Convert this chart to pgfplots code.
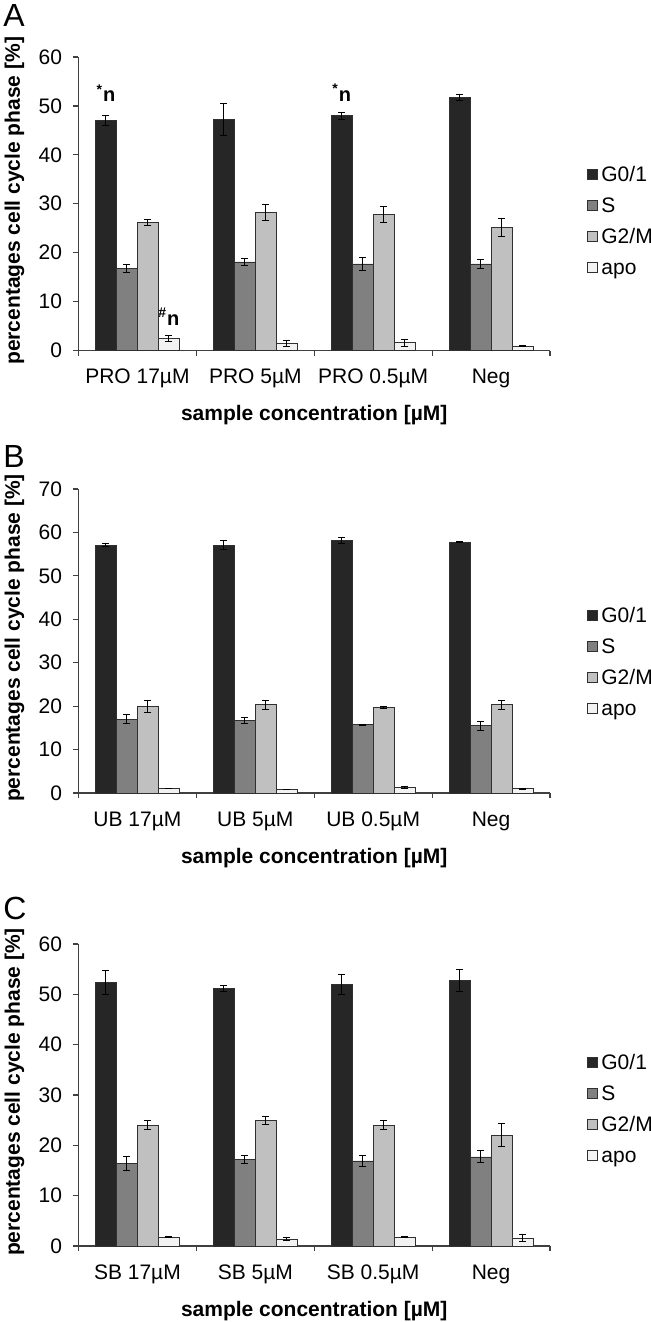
\documentclass[border=0pt]{standalone}
\usepackage{fontspec}
\setmainfont{Liberation Sans}
\usepackage{pgfplots}
\pgfplotsset{compat=1.18}
\definecolor{cG}{HTML}{262626}
\definecolor{cS}{HTML}{808080}
\definecolor{cM}{HTML}{C0C0C0}
\definecolor{cA}{HTML}{F2F2F2}
\definecolor{cEdge}{HTML}{303030}
\definecolor{cAxis}{HTML}{404040}
\pgfplotsset{
 panel/.style={
  scale only axis, width=235.75pt,
  xmin=-0.5, xmax=3.5, ymin=0,
  axis lines=left, axis line style={-, cAxis, line width=0.6pt},
  xtick={0,1,2,3}, major x tick style={draw=none},
  minor xtick={-0.5,0.5,1.5,2.5,3.5},
  minor x tick style={cAxis, line width=0.6pt},
  tick align=outside, minor tick length=2.5pt, major tick length=2.5pt,
  ytick style={cAxis, line width=0.6pt},
  /pgf/number format/assume math mode=true,
  yticklabel style={font=\fontsize{10.5}{12}\selectfont, anchor=east, inner sep=0pt, xshift=-5.5pt},
  xticklabel style={font=\fontsize{10.5}{12}\selectfont, anchor=base, inner sep=0pt, yshift=-14pt},
  xlabel={sample concentration [µM]},
  ylabel={percentages cell cycle phase [\%]},
  xlabel style={at={(rel axis cs:0.5,0)}, anchor=base, yshift=-35pt, inner sep=0pt, font=\bfseries\fontsize{10.5}{12}\selectfont},
  ylabel style={at={(axis description cs:-0.1357,0.51)}, anchor=center, inner sep=0pt, font=\bfseries\fontsize{10.5}{12}\selectfont},
  ybar=0pt, bar width=10.5pt,
  every axis plot/.append style={draw=cEdge, line width=0.4pt},
  error bars/y dir=both, error bars/y explicit,
  error bars/error bar style={black, line width=0.5pt},
  error bars/error mark options={rotate=90, black, mark size=1.75pt, line width=0.5pt},
  legend image code/.code={\draw[#1, draw=cEdge, line width=0.4pt] (0pt,-2.5pt) rectangle (5pt,2.5pt);},
  legend cell align=left,
  legend style={anchor=west, xshift=18.5pt, draw=none, fill=none, inner sep=0pt, outer sep=0pt,
    row sep=8pt, column sep=0pt, font=\fontsize{10.5}{12}\selectfont,
    nodes={inner xsep=1.8pt, inner ysep=0pt, text height=7.5pt, text depth=0pt}},
 }
}
\begin{document}
\begin{tikzpicture}
\path[use as bounding box] (0,0) rectangle (325pt,-661pt);
% Panel A
\node[anchor=base west, inner sep=0pt, font=\fontsize{16}{18}\selectfont] at (1.5pt,-13.5pt) {A};
\begin{axis}[panel, at={(39.25pt,-175.25pt)}, anchor=south west, height=146.75pt,
  ymax=60, ytick={0,10,...,60},
  xticklabels={PRO 17µM, PRO 5µM, PRO 0.5µM, Neg},
  legend style={at={(rel axis cs:1,0.443)}}]
\addplot[fill=cG] coordinates {(0,47.0) +- (0,1.1) (1,47.2) +- (0,3.2) (2,48.0) +- (0,0.7) (3,51.7) +- (0,0.55)};
\addplot[fill=cS] coordinates {(0,16.7) +- (0,0.85) (1,18.1) +- (0,0.7) (2,17.7) +- (0,1.3) (3,17.7) +- (0,1.0)};
\addplot[fill=cM] coordinates {(0,26.15) +- (0,0.6) (1,28.2) +- (0,1.7) (2,27.8) +- (0,1.7) (3,25.1) +- (0,1.85)};
\addplot[fill=cA] coordinates {(0,2.4) +- (0,0.65) (1,1.4) +- (0,0.65) (2,1.6) +- (0,0.7) (3,0.9) +- (0,0.15)};
\legend{G0/1,S,G2/M,apo}
\node[anchor=base, inner sep=0pt, font=\bfseries\fontsize{10}{12}\selectfont] at (axis cs:-0.2672,50.86) {\textsuperscript{*}n};
\node[anchor=base, inner sep=0pt, font=\bfseries\fontsize{10}{12}\selectfont] at (axis cs:1.7328,51.0) {\textsuperscript{*}n};
\node[anchor=base, inner sep=0pt, font=\bfseries\fontsize{10}{12}\selectfont] at (axis cs:0.2672,5.2) {\textsuperscript{\#}n};
\end{axis}
% Panel B
\node[anchor=base west, inner sep=0pt, font=\fontsize{16}{18}\selectfont] at (1.5pt,-233.5pt) {B};
\begin{axis}[panel, at={(39.25pt,-396.5pt)}, anchor=south west, height=152pt,
  ymax=70, ytick={0,10,...,70},
  xticklabels={UB 17µM, UB 5µM, UB 0.5µM, Neg},
  legend style={at={(rel axis cs:1,0.431)}}]
\addplot[fill=cG] coordinates {(0,57.1) +- (0,0.3) (1,57.1) +- (0,1.0) (2,58.1) +- (0,0.75) (3,57.8) +- (0,0.1)};
\addplot[fill=cS] coordinates {(0,17.0) +- (0,1.0) (1,16.7) +- (0,0.7) (2,15.7) +- (0,0.1) (3,15.5) +- (0,1.0)};
\addplot[fill=cM] coordinates {(0,19.9) +- (0,1.4) (1,20.3) +- (0,1.0) (2,19.7) +- (0,0.2) (3,20.3) +- (0,1.0)};
\addplot[fill=cA] coordinates {(0,1.1) +- (0,0) (1,0.75) +- (0,0) (2,1.2) +- (0,0.2) (3,0.95) +- (0,0.15)};
\legend{G0/1,S,G2/M,apo}
\end{axis}
% Panel C
\node[anchor=base west, inner sep=0pt, font=\fontsize{16}{18}\selectfont] at (1.5pt,-459.5pt) {C};
\begin{axis}[panel, at={(39.25pt,-623pt)}, anchor=south west, height=151pt,
  ymax=60, ytick={0,10,...,60},
  xticklabels={SB 17µM, SB 5µM, SB 0.5µM, Neg},
  legend style={at={(rel axis cs:1,0.454)}}]
\addplot[fill=cG] coordinates {(0,52.4) +- (0,2.4) (1,51.2) +- (0,0.6) (2,51.9) +- (0,2.0) (3,52.8) +- (0,2.2)};
\addplot[fill=cS] coordinates {(0,16.4) +- (0,1.45) (1,17.2) +- (0,0.8) (2,16.9) +- (0,1.1) (3,17.7) +- (0,1.2)};
\addplot[fill=cM] coordinates {(0,24.0) +- (0,0.85) (1,24.9) +- (0,0.85) (2,24.0) +- (0,0.85) (3,22.0) +- (0,2.3)};
\addplot[fill=cA] coordinates {(0,1.8) +- (0,0.15) (1,1.4) +- (0,0.3) (2,1.8) +- (0,0.1) (3,1.6) +- (0,0.65)};
\legend{G0/1,S,G2/M,apo}
\end{axis}
\end{tikzpicture}
\end{document}
